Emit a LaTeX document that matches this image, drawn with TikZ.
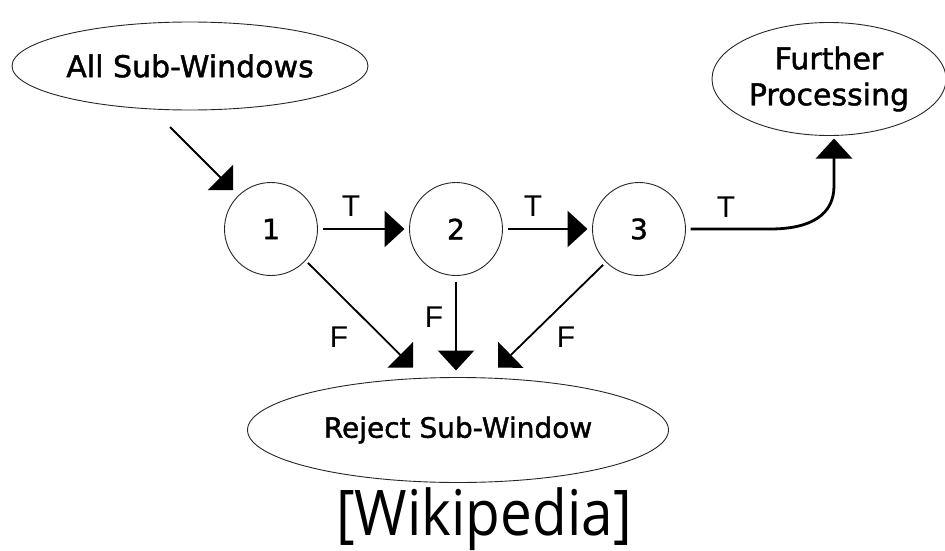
\documentclass[tikz,border=0pt]{standalone}
\usepackage{fontspec}
\setmainfont{DejaVu Sans}
\newfontfamily\boxfont[FakeBold=1.4]{DejaVu Sans}
\newfontfamily\labelfont{Liberation Sans}
\newfontfamily\creditfont[FakeStretch=0.9]{Open Sans}
\usetikzlibrary{shapes.geometric,arrows.meta,calc}

\begin{document}
\begin{tikzpicture}[x=1pt,y=-1pt,
  every node/.style={inner sep=0pt, outer sep=0pt},
  oval/.style={ellipse, draw=black!85, line width=0.9pt},
  ovaltext/.style={font=\boxfont\fontsize{30}{36}\selectfont, align=center},
  stage/.style={circle, draw=black!85, line width=0.9pt, minimum size=93pt,
                font=\boxfont\fontsize{28}{32}\selectfont},
  edgelabel/.style={font=\labelfont\fontsize{30}{34}\selectfont},
  thickarrow/.style={line width=2.8pt, -{Triangle[length=20pt,width=36pt]}},
  thinarrow/.style={line width=1.8pt, -{Triangle[length=18pt,width=36pt]}}
]
\useasboundingbox (0,0) rectangle (945,551);

% ovals
\node[oval, minimum width=356pt, minimum height=88pt,
      label={[ovaltext]center:All Sub-Windows}] (all) at (190,66) {};
\node[oval, minimum width=234pt, minimum height=113pt,
      label={[ovaltext]center:Further\\Processing}] (fur) at (829,79) {};
\node[oval, minimum width=421pt, minimum height=105pt,
      label={[ovaltext, font=\boxfont\fontsize{28}{34}\selectfont]center:Reject Sub-Window}] (rej) at (458,430) {};

% classifier stages
\node[stage] (c1) at (271,229) {1};
\node[stage] (c2) at (456,229) {2};
\node[stage] (c3) at (639,229) {3};

% free ends of connectors
\coordinate (inA) at ([shift={(-20,17)}]all.south);
\coordinate (tip1) at ([shift={(-45,-10)}]rej.north);
\coordinate (tip2) at ([shift={(-2,-7)}]rej.north);
\coordinate (tip3) at ([shift={(40,-10)}]rej.north);
\coordinate (fp) at ([shift={(5,3)}]fur.south);

% input
\draw[thinarrow] (inA) -- ([shift={(-5,-6)}]c1.135);

% true branches
\draw[thickarrow] ([shift={(5,0)}]c1.east) -- ([shift={(-5,0)}]c2.west);
\draw[thickarrow] ([shift={(5,0)}]c2.east) -- ([shift={(-5,0)}]c3.west);
\draw[thickarrow] ([shift={(5,0)}]c3.east) -- (770,229)
   .. controls (812,229) and (834,214) .. (834,186) -- (fp);

% false branches
\draw[thinarrow] ([shift={(4,1)}]c1.-45) -- (tip1);
\draw[thickarrow] ([shift={(0,6)}]c2.south) -- (tip2);
\draw[thinarrow] ([shift={(-3,3)}]c3.-135) -- (tip3);

% edge labels
\node[edgelabel] (lt1) at (351,206) {T};
\node[edgelabel] (lt2) at (533,206) {T};
\node[edgelabel] (lt3) at (726,207) {T};
\node[edgelabel] (lf1) at (339,337) {F};
\node[edgelabel] (lf2) at (434,317) {F};
\node[edgelabel] (lf3) at (566,337) {F};

% credit line
\node[anchor=base, font=\creditfont\fontsize{63}{76}\selectfont] (credit) at (484,535) {[Wikipedia]};
\end{tikzpicture}
\end{document}
